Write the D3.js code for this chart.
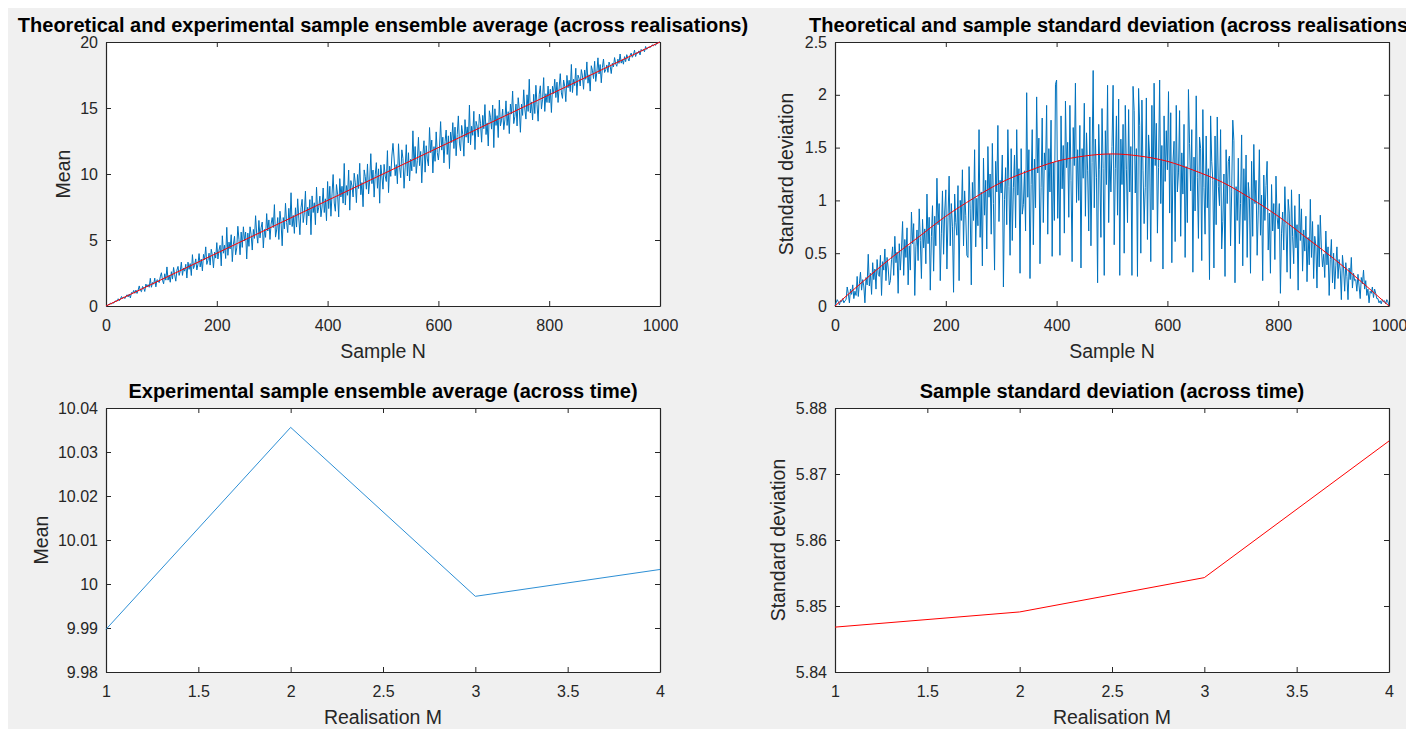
<!DOCTYPE html>
<html>
<head>
<meta charset="utf-8">
<script src="https://cdn.jsdelivr.net/npm/d3@7"></script>
<style>
  html, body { margin: 0; padding: 0; background: #ffffff; }
  svg { display: block; font-family: "Liberation Sans", Arial, sans-serif; }
</style>
</head>
<body>
<div id="chart"></div>
<script>
// samples are plotted every 2nd point, n = 0..1000
const sampleN = d3.range(0, 1001, 2);

// ensemble mean across realisations (blue, top left)
const ensembleMean = [
  0, 0.0, 0.11, 0.11, 0.22, 0.17, 0.24, 0.22, 0.36, 0.38,
  0.36, 0.55, 0.4, 0.52, 0.72, 0.57, 0.69, 0.56, 0.74, 0.85,
  0.69, 0.91, 0.61, 1.02, 0.95, 1.18, 0.96, 1.21, 0.95, 1.2,
  1.52, 1.16, 1.08, 1.48, 1.38, 1.1, 1.66, 1.44, 1.62, 1.42,
  2.1, 1.42, 1.78, 1.65, 2.11, 1.45, 1.99, 1.93, 1.77, 2.21,
  2.52, 1.96, 1.68, 2.44, 1.96, 2.96, 1.96, 2.32, 1.8, 2.6,
  2.04, 2.92, 2.36, 1.88, 2.72, 3.0, 2.32, 2.64, 3.32, 2.32,
  2.88, 2.64, 3.16, 2.12, 3.32, 2.78, 3.21, 2.31, 3.89, 2.83,
  3.09, 3.57, 2.73, 3.16, 3.97, 2.96, 3.55, 2.66, 3.91, 3.51,
  4.48, 3.15, 3.46, 4.0, 3.1, 4.3, 3.84, 2.89, 4.09, 3.63,
  4.8, 3.56, 4.24, 4.6, 3.04, 5.32, 4.0, 4.6, 3.6, 5.96,
  3.84, 4.84, 4.32, 5.4, 3.36, 4.68, 5.28, 3.88, 4.4, 6.04,
  5.04, 3.88, 5.6, 4.44, 6.0, 4.92, 5.6, 3.56, 5.52, 4.52,
  6.0, 5.4, 4.24, 5.8, 5.12, 6.84, 5.44, 4.76, 6.48, 5.16,
  5.92, 6.36, 4.4, 5.8, 5.2, 7.0, 5.68, 6.52, 5.04, 6.2,
  6.7, 5.94, 7.68, 5.22, 5.76, 6.7, 5.04, 7.18, 6.32, 4.56,
  6.7, 5.84, 7.78, 6.32, 5.56, 7.4, 6.14, 8.58, 6.02, 6.86,
  5.5, 7.44, 5.98, 8.12, 6.66, 5.4, 7.44, 8.08, 6.32, 7.06,
  8.7, 6.14, 7.48, 6.82, 8.06, 5.4, 8.34, 7.08, 7.82, 6.16,
  9.0, 7.04, 7.48, 8.32, 6.76, 7.5, 8.94, 7.08, 8.12, 6.46,
  9.43, 7.38, 9.07, 6.8, 8.49, 9.96, 7.8, 7.18, 9.2, 8.47,
  6.75, 9.65, 8.26, 9.07, 7.79, 10.8, 7.65, 9.12, 8.39, 10.3,
  7.26, 9.5, 9.1, 8.26, 10.06, 9.33, 7.83, 9.96, 8.9, 10.81,
  8.43, 9.35, 7.52, 10.31, 9.8, 8.85, 10.76, 8.49, 9.52, 11.54,
  9.27, 10.3, 8.25, 9.94, 10.86, 8.92, 10.39, 7.79, 10.69, 9.85,
  8.85, 10.73, 9.85, 9.43, 11.77, 8.59, 10.59, 9.82, 11.36, 12.32,
  11.21, 9.87, 10.71, 9.26, 12.29, 10.49, 9.72, 11.83, 11.18, 8.92,
  10.46, 12.22, 9.85, 11.61, 9.47, 11.12, 10.24, 13.27, 10.55, 12.08,
  10.05, 11.01, 12.78, 10.63, 11.71, 9.33, 11.44, 12.52, 10.14, 12.14,
  11.14, 10.61, 13.52, 11.61, 12.57, 10.08, 12.07, 10.96, 13.19, 11.62,
  11.06, 12.04, 13.97, 11.81, 12.79, 10.84, 12.45, 13.33, 11.48, 12.89,
  10.41, 13.18, 12.38, 13.89, 11.93, 13.55, 11.38, 13.0, 14.4, 12.34,
  11.75, 13.68, 12.99, 11.35, 14.12, 12.79, 13.57, 12.35, 15.22, 12.22,
  13.62, 12.93, 14.75, 11.85, 13.99, 13.61, 12.81, 14.53, 13.84, 12.41,
  14.44, 13.43, 15.26, 12.99, 13.87, 12.12, 14.79, 14.3, 13.4, 15.22,
  12.0, 14.94, 13.68, 14.42, 12.76, 15.6, 13.64, 14.08, 14.92, 13.36,
  14.1, 15.54, 13.68, 14.72, 13.06, 15.3, 14.54, 16.28, 13.82, 14.36,
  15.3, 13.64, 15.78, 14.92, 13.16, 15.3, 14.44, 16.38, 14.92, 14.16,
  16.0, 14.74, 17.18, 14.62, 15.46, 14.1, 16.04, 14.58, 16.72, 15.26,
  14.0, 16.04, 16.68, 14.92, 15.66, 17.3, 14.74, 16.08, 15.42, 16.66,
  15.4, 16.42, 14.66, 16.65, 16.09, 17.18, 15.79, 16.96, 15.42, 16.59,
  17.6, 16.14, 15.73, 17.12, 16.64, 15.48, 17.47, 16.53, 17.1, 16.24,
  18.3, 16.17, 17.18, 16.7, 18.01, 15.95, 17.49, 17.23, 16.67, 17.91,
  17.43, 16.42, 17.88, 17.17, 18.49, 16.88, 17.52, 16.28, 18.2, 17.86,
  17.23, 18.54, 17.01, 17.72, 18.8, 17.58, 18.29, 16.91, 18.07, 18.71,
  17.69, 17.9, 18.26, 17.7, 18.48, 18.2, 17.61, 18.39, 18.11, 18.82,
  18.34, 18.16, 18.7, 18.38, 19.09, 18.4, 18.67, 18.32, 18.89, 18.51,
  19.04, 18.78, 18.56, 19.0, 19.16, 18.84, 19.02, 19.38, 18.9, 19.2,
  19.14, 19.33, 19.02, 19.44, 19.31, 19.44, 19.26, 19.66, 19.44, 19.53,
  19.64, 19.58, 19.66, 19.79, 19.71, 19.81, 19.75, 19.92, 19.91, 19.98,
  20
];

// theoretical mean (red, top left)
const theoryMeanN = [0, 1000];
const theoryMean = [0, 20];

// sample standard deviation across realisations (blue, top right)
const ensembleStd = [
  0, 0.03, 0.06, 0.04, 0.01, 0.05, 0.04, 0.07, 0.03, 0.05,
  0.06, 0.18, 0.12, 0.03, 0.16, 0.11, 0.2, 0.07, 0.14, 0.1,
  0.28, 0.09, 0.21, 0.32, 0.15, 0.25, 0.19, 0.03, 0.27, 0.2,
  0.49, 0.19, 0.31, 0.11, 0.41, 0.25, 0.35, 0.16, 0.44, 0.3,
  0.28, 0.48, 0.1, 0.42, 0.34, 0.54, 0.24, 0.46, 0.36, 0.2,
  0.24, 0.44, 0.56, 0.29, 0.66, 0.41, 0.51, 0.12, 0.59, 0.34,
  0.54, 0.8, 0.29, 0.63, 0.46, 0.74, 0.2, 0.57, 0.34, 0.89,
  0.59, 0.78, 0.1, 0.56, 0.72, 0.43, 0.92, 0.62, 0.26, 0.82,
  0.55, 0.73, 0.4, 1.06, 0.59, 0.84, 0.15, 0.66, 0.95, 0.33,
  0.85, 0.57, 1.21, 0.77, 0.97, 0.24, 0.69, 1.09, 0.49, 0.89,
  1.1, 0.35, 0.84, 1.23, 0.57, 0.97, 0.75, 0.13, 1.06, 0.79,
  0.67, 1.14, 0.24, 1.0, 0.81, 1.29, 0.57, 1.09, 0.86, 0.48,
  0.46, 1.32, 0.92, 0.2, 1.17, 0.81, 1.48, 0.56, 1.02, 0.76,
  1.67, 0.65, 1.08, 0.38, 1.4, 0.86, 1.19, 0.54, 1.51, 1.03,
  1.25, 0.68, 1.54, 0.97, 0.34, 1.37, 1.08, 1.71, 0.8, 1.19,
  1.07, 1.43, 0.18, 1.01, 1.31, 0.77, 1.67, 1.13, 0.48, 1.49,
  0.62, 1.12, 1.43, 0.74, 1.67, 1.05, 1.3, 0.31, 1.49, 0.87,
  0.96, 1.28, 0.71, 2.02, 1.03, 1.48, 0.26, 1.15, 1.67, 0.58,
  1.39, 0.93, 1.98, 1.26, 1.59, 0.4, 1.12, 1.78, 0.79, 1.45,
  1.29, 1.9, 0.68, 1.49, 1.08, 1.76, 0.47, 1.36, 0.81, 2.1,
  2.14, 0.83, 1.38, 0.48, 1.8, 1.11, 1.52, 0.69, 1.94, 1.31,
  1.55, 0.84, 1.9, 1.19, 0.42, 1.69, 1.33, 2.11, 0.98, 1.48,
  1.0, 1.71, 0.36, 1.49, 1.21, 1.92, 0.85, 1.64, 1.28, 0.71,
  1.79, 0.57, 1.36, 2.23, 0.93, 1.58, 1.22, 0.22, 1.72, 1.29,
  0.65, 1.87, 1.3, 0.29, 1.66, 1.15, 2.09, 0.79, 1.44, 1.08,
  1.51, 2.09, 0.58, 1.3, 1.8, 0.86, 1.96, 0.29, 1.58, 1.15,
  1.72, 0.5, 1.9, 1.29, 0.79, 1.86, 1.08, 1.51, 0.29, 2.08,
  1.85, 1.07, 1.49, 0.28, 2.06, 1.71, 0.5, 1.95, 1.28, 0.78,
  1.12, 1.97, 0.63, 1.62, 1.41, 0.42, 1.9, 0.91, 2.11, 1.33,
  1.73, 0.69, 1.31, 2.14, 0.97, 1.52, 0.35, 1.8, 1.18, 1.66,
  1.29, 2.03, 0.88, 1.83, 0.41, 1.36, 1.56, 0.61, 1.9, 1.08,
  1.26, 1.85, 0.66, 1.45, 1.06, 1.72, 0.46, 1.32, 0.79, 2.05,
  1.54, 1.09, 1.67, 0.32, 1.41, 0.9, 1.99, 1.22, 0.64, 1.6,
  1.49, 0.43, 1.86, 1.12, 0.68, 1.61, 0.93, 1.3, 0.25, 1.8,
  1.37, 1.19, 0.36, 1.61, 0.77, 1.79, 1.13, 0.95, 1.67, 0.54,
  0.8, 1.25, 0.28, 1.48, 0.97, 1.37, 1.42, 0.57, 1.08, 1.76,
  1.57, 0.22, 1.13, 0.81, 1.4, 0.59, 0.97, 1.62, 0.38, 1.3,
  0.81, 1.43, 0.46, 1.17, 1.02, 0.31, 1.37, 0.66, 1.53, 0.97,
  1.19, 0.48, 0.9, 1.48, 0.67, 1.05, 0.24, 1.24, 0.81, 1.14,
  1.37, 0.53, 0.88, 0.31, 1.15, 0.71, 0.97, 0.44, 1.23, 0.84,
  0.73, 0.97, 0.12, 0.69, 0.89, 0.53, 1.13, 0.77, 0.32, 1.01,
  0.88, 0.26, 1.1, 0.66, 0.4, 0.95, 0.55, 0.77, 0.15, 1.06,
  0.62, 0.92, 0.33, 0.72, 0.52, 0.85, 0.23, 0.65, 0.39, 1.01,
  0.46, 0.8, 0.26, 0.66, 0.57, 0.17, 0.77, 0.37, 0.86, 0.54,
  0.37, 0.49, 0.27, 0.71, 0.39, 0.56, 0.1, 0.44, 0.63, 0.22,
  0.5, 0.16, 0.38, 0.56, 0.26, 0.44, 0.34, 0.06, 0.48, 0.36,
  0.14, 0.41, 0.28, 0.06, 0.36, 0.25, 0.46, 0.17, 0.31, 0.24,
  0.25, 0.14, 0.3, 0.19, 0.07, 0.27, 0.21, 0.34, 0.16, 0.24,
  0.1, 0.16, 0.03, 0.14, 0.12, 0.18, 0.08, 0.16, 0.12, 0.07,
  0.07, 0.03, 0.05, 0.02, 0.06, 0.04, 0.05, 0.02, 0.06, 0.04,
  0
];

// theoretical standard deviation (red, top right)
const theoryStdN = d3.range(0, 1001, 50);
const theoryStd = [0, 0.23, 0.45, 0.65, 0.85, 1.02, 1.17, 1.28, 1.37, 1.42, 1.44,
                   1.42, 1.37, 1.28, 1.17, 1.02, 0.85, 0.65, 0.45, 0.23, 0];

// time averages per realisation (bottom row)
const realisationM = [1, 2, 3, 4];
const timeMean = [9.9897, 10.0356, 9.9972, 10.0033];
const timeStd = [5.8468, 5.8491, 5.8543, 5.875];

// tick values
const sampleTicks = [0, 200, 400, 600, 800, 1000];
const meanTicks = [0, 5, 10, 15, 20];
const stdTicks = [0, 0.5, 1, 1.5, 2, 2.5];
const realisationTicks = [1, 1.5, 2, 2.5, 3, 3.5, 4];
const timeMeanTicks = [9.98, 9.99, 10, 10.01, 10.02, 10.03, 10.04];
const timeStdTicks = [5.84, 5.85, 5.86, 5.87, 5.88];

const W = 1406, H = 729;
const BLUE = "#0072bd", RED = "#ff0000", AX = "#262626";

const svg = d3.select("#chart").append("svg")
    .attr("width", W)
    .attr("height", H);

// matlab figure background
svg.append("rect")
    .attr("x", 8).attr("y", 8)
    .attr("width", W - 8).attr("height", H - 8)
    .attr("fill", "#f0f0f0");

function zip(xs, ys) {
    const n = Math.min(xs.length, ys.length);
    return d3.range(n).map(i => [xs[i], ys[i]]);
}

function panel(p) {
    const x = d3.scaleLinear().domain(p.xDomain).range([p.left, p.left + p.w]);
    const y = d3.scaleLinear().domain(p.yDomain).range([p.top + p.h, p.top]);
    const g = svg.append("g");

    g.append("rect")
        .attr("x", p.left).attr("y", p.top)
        .attr("width", p.w).attr("height", p.h)
        .attr("fill", "#ffffff");

    const fmt = d3.format("~g");

    // bottom + left axes with labels, top + right axes without
    g.append("g")
        .attr("transform", `translate(0,${p.top + p.h})`)
        .call(d3.axisBottom(x).tickValues(p.xTicks).tickFormat(fmt)
            .tickSizeInner(-5).tickSizeOuter(0).tickPadding(14));
    g.append("g")
        .attr("transform", `translate(0,${p.top})`)
        .call(d3.axisTop(x).tickValues(p.xTicks).tickFormat("")
            .tickSizeInner(-5).tickSizeOuter(0));
    g.append("g")
        .attr("transform", `translate(${p.left},0)`)
        .call(d3.axisLeft(y).tickValues(p.yTicks).tickFormat(fmt)
            .tickSizeInner(-5).tickSizeOuter(0).tickPadding(8));
    g.append("g")
        .attr("transform", `translate(${p.left + p.w},0)`)
        .call(d3.axisRight(y).tickValues(p.yTicks).tickFormat("")
            .tickSizeInner(-5).tickSizeOuter(0));

    g.selectAll(".domain").attr("stroke", AX).attr("stroke-width", 1.2);
    g.selectAll(".tick line").attr("stroke", AX);
    g.selectAll(".tick text")
        .attr("fill", AX)
        .style("font-size", "16px");

    const line = d3.line().x(d => x(d[0])).y(d => y(d[1]));

    p.series.forEach(s => {
        g.append("path")
            .datum(zip(s.x, s.y))
            .attr("fill", "none")
            .attr("stroke", s.color)
            .attr("stroke-width", s.width || 1)
            .attr("stroke-linejoin", "round")
            .attr("d", line.curve(s.curve || d3.curveLinear));
    });

    // title
    g.append("text")
        .attr("x", p.left + p.w / 2)
        .attr("y", p.top - 10)
        .attr("text-anchor", "middle")
        .style("font-size", "20px")
        .style("font-weight", "bold")
        .attr("fill", "#000")
        .text(p.title);

    // x label
    g.append("text")
        .attr("x", p.left + p.w / 2)
        .attr("y", p.top + p.h + 52)
        .attr("text-anchor", "middle")
        .style("font-size", "19.5px")
        .attr("fill", AX)
        .text(p.xLabel);

    // y label
    g.append("text")
        .attr("transform", `translate(${p.yLabelX},${p.top + p.h / 2}) rotate(-90)`)
        .attr("text-anchor", "middle")
        .style("font-size", "19.5px")
        .attr("fill", AX)
        .text(p.yLabel);
}

panel({
    left: 106, top: 42, w: 554, h: 264,
    xDomain: [0, 1000], yDomain: [0, 20],
    xTicks: sampleTicks, yTicks: meanTicks,
    title: "Theoretical and experimental sample ensemble average (across realisations)",
    xLabel: "Sample N", yLabel: "Mean", yLabelX: 70,
    series: [
        { x: sampleN, y: ensembleMean, color: BLUE },
        { x: theoryMeanN, y: theoryMean, color: RED }
    ]
});

panel({
    left: 835, top: 42, w: 554, h: 264,
    xDomain: [0, 1000], yDomain: [0, 2.5],
    xTicks: sampleTicks, yTicks: stdTicks,
    title: "Theoretical and sample standard deviation (across realisations)",
    xLabel: "Sample N", yLabel: "Standard deviation", yLabelX: 793,
    series: [
        { x: sampleN, y: ensembleStd, color: BLUE },
        { x: theoryStdN, y: theoryStd, color: RED, curve: d3.curveMonotoneX }
    ]
});

panel({
    left: 106, top: 408, w: 554, h: 264,
    xDomain: [1, 4], yDomain: [9.98, 10.04],
    xTicks: realisationTicks, yTicks: timeMeanTicks,
    title: "Experimental sample ensemble average (across time)",
    xLabel: "Realisation M", yLabel: "Mean", yLabelX: 48,
    series: [
        { x: realisationM, y: timeMean, color: "#2d8fd5" }
    ]
});

panel({
    left: 835, top: 408, w: 554, h: 264,
    xDomain: [1, 4], yDomain: [5.84, 5.88],
    xTicks: realisationTicks, yTicks: timeStdTicks,
    title: "Sample standard deviation (across time)",
    xLabel: "Realisation M", yLabel: "Standard deviation", yLabelX: 785,
    series: [
        { x: realisationM, y: timeStd, color: RED }
    ]
});
</script>
</body>
</html>
